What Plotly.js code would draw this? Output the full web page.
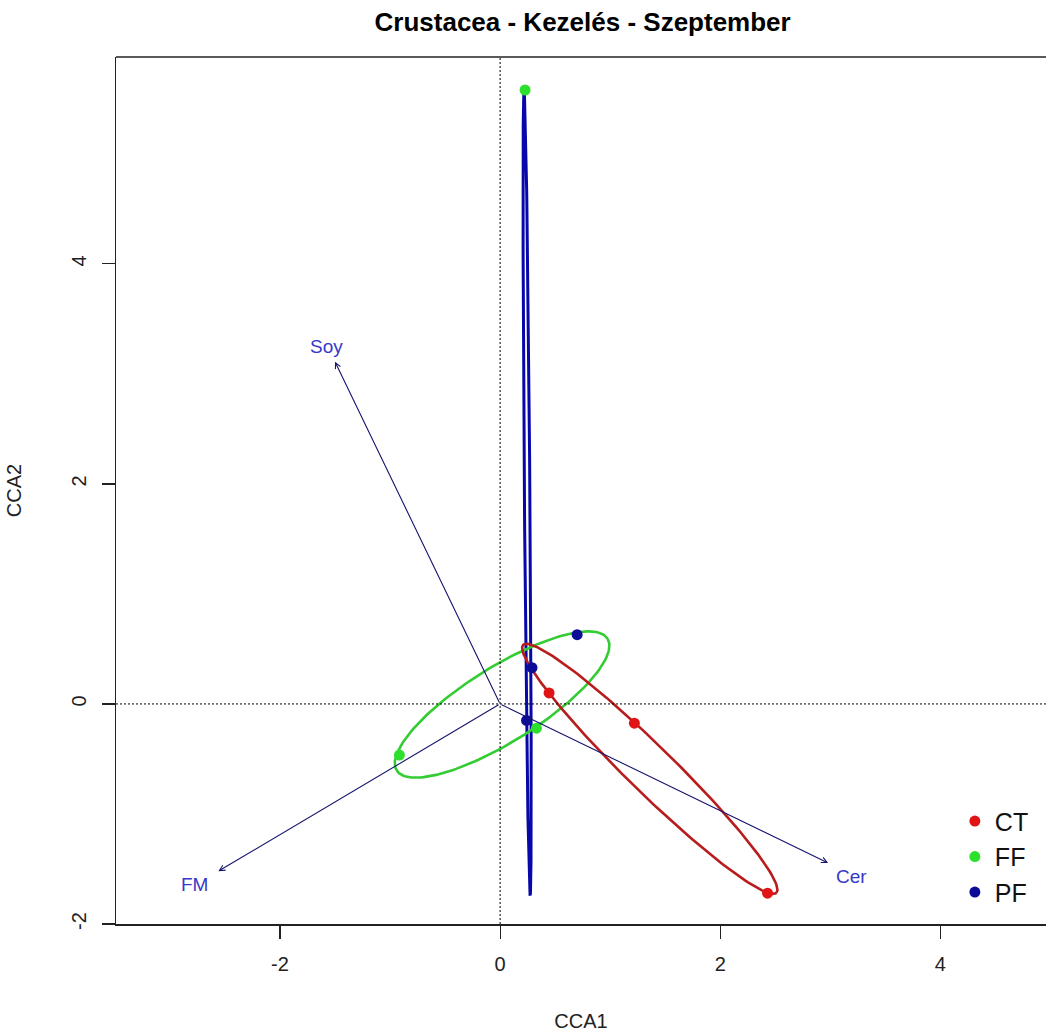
<!DOCTYPE html>
<html><head><meta charset="utf-8">
<script src="https://cdn.plot.ly/plotly-3.0.1.min.js"></script>
<style>html,body{margin:0;padding:0;background:#fff}</style>
</head><body><div id="chart" style="width:1046px;height:1032px"></div>
<script>
// site scores (CCA1, CCA2) per treatment
const groups = ['CT', 'FF', 'PF'];
const ctX = [0.445, 1.22, 2.43];
const ctY = [0.10, -0.175, -1.72];
const ffX = [0.227, -0.915, 0.33];
const ffY = [5.58, -0.465, -0.22];
const pfX = [0.70, 0.29, 0.24];
const pfY = [0.63, 0.33, -0.15];

// ellipses: centre, semi-axes and rotation (degrees), one per treatment
const ellipseCx = [1.36, 0.018, 0.2455];
const ellipseCy = [-0.59, -0.005, 1.92];
const ellipseA = [1.61, 1.13, 3.66];
const ellipseB = [0.21, 0.34, 0.025];
const ellipseAngle = [-44.4, 32, 90.43];

// environmental biplot arrows
const envNames = ['Soy', 'FM', 'Cer'];
const envX = [-1.50, -2.56, 2.98];
const envY = [3.11, -1.52, -1.445];
const envLabelX = [-1.58, -2.78, 3.19];
const envLabelY = [3.25, -1.64, -1.57];

// tick values
const xTicks = [-2, 0, 2, 4];
const yTicks = [-2, 0, 2, 4];

const pointColors = ['#e01414', '#2ee02e', '#0c0c96'];
const ellipseColors = ['#b81c1c', '#33cc33', '#0808aa'];
const ellipseWidths = [2.6, 2.6, 3];
const FONT = 'Liberation Sans, Arial, sans-serif';

function ellipsePath(i) {
  const th = ellipseAngle[i] * Math.PI / 180;
  const xs = [], ys = [];
  const n = 200;
  for (let k = 0; k <= n; k++) {
    const t = 2 * Math.PI * k / n;
    const u = ellipseA[i] * Math.cos(t), v = ellipseB[i] * Math.sin(t);
    xs.push(ellipseCx[i] + u * Math.cos(th) - v * Math.sin(th));
    ys.push(ellipseCy[i] + u * Math.sin(th) + v * Math.cos(th));
  }
  return {xs, ys};
}

const traces = [];
// draw order: blue, green, red ellipses
[2, 1, 0].forEach(i => {
  const p = ellipsePath(i);
  traces.push({x: p.xs, y: p.ys, type: 'scatter', mode: 'lines', showlegend: false, hoverinfo: 'skip',
    line: {color: ellipseColors[i], width: ellipseWidths[i]}});
});
const gx = [ctX, ffX, pfX], gy = [ctY, ffY, pfY];
groups.forEach((g, i) => {
  traces.push({x: gx[i], y: gy[i], type: 'scatter', mode: 'markers', name: g,
    marker: {color: pointColors[i], size: 11}});
});

const annotations = [];
envNames.forEach((nm, i) => {
  annotations.push({x: envX[i], y: envY[i], ax: 0, ay: 0, xref: 'x', yref: 'y', axref: 'x', ayref: 'y',
    showarrow: true, arrowhead: 5, arrowsize: 1, arrowwidth: 1.1, arrowcolor: '#14146e', text: ''});
  annotations.push({x: envLabelX[i], y: envLabelY[i], xref: 'x', yref: 'y', showarrow: false, text: nm,
    font: {family: FONT, size: 19, color: '#3838c8'}});
});

const shapes = [
  {type: 'line', xref: 'x', yref: 'paper', x0: 0, x1: 0, y0: 0, y1: 1, line: {color: '#000', width: 1, dash: '2px,2px'}},
  {type: 'line', xref: 'paper', yref: 'y', x0: 0, x1: 1, y0: 0, y1: 0, line: {color: '#000', width: 1, dash: '2px,2px'}},
  {type: 'line', xref: 'paper', yref: 'paper', x0: 0, x1: 1, y0: 1, y1: 1, line: {color: '#222', width: 1.5}}
];

const layout = {
  width: 1046, height: 1032,
  margin: {l: 116, r: 0, t: 57, b: 108},
  paper_bgcolor: '#fff', plot_bgcolor: '#fff',
  font: {family: FONT, color: '#111'},
  title: {text: '<b>Crustacea - Kezelés - Szeptember</b>', font: {family: FONT, size: 26, color: '#000'},
    xref: 'container', yref: 'container', x: 0.557, xanchor: 'center', y: 1 - 22 / 1032, yanchor: 'middle'},
  xaxis: {range: [-3.49, 4.96], tickvals: xTicks, ticktext: xTicks.map(String), ticks: 'outside', ticklen: 13,
    tickcolor: '#222', tickwidth: 1.2, showline: true, linecolor: '#222', linewidth: 1.5, showgrid: false, zeroline: false,
    ticklabelstandoff: 8,
    tickfont: {size: 20, color: '#222'}, title: {text: 'CCA1', font: {size: 20, color: '#222'}, standoff: 42}},
  yaxis: {range: [-2.0, 5.88], tickvals: yTicks, ticktext: yTicks.map(String), ticks: 'outside', ticklen: 13, tickangle: -90,
    ticklabelstandoff: 8,
    tickcolor: '#222', tickwidth: 1.2, showline: true, linecolor: '#222', linewidth: 1.5, showgrid: false, zeroline: false,
    tickfont: {size: 20, color: '#222'}, title: {text: 'CCA2', font: {size: 20, color: '#222'}, standoff: 40}},
  showlegend: true,
  legend: {x: 0.902, y: 0.145, xanchor: 'left', yanchor: 'top', font: {size: 25, color: '#111'},
    bgcolor: 'rgba(255,255,255,0)', tracegroupgap: 0},
  annotations: annotations,
  shapes: shapes
};

Plotly.newPlot('chart', traces, layout, {displayModeBar: false, staticPlot: true});
</script></body></html>
